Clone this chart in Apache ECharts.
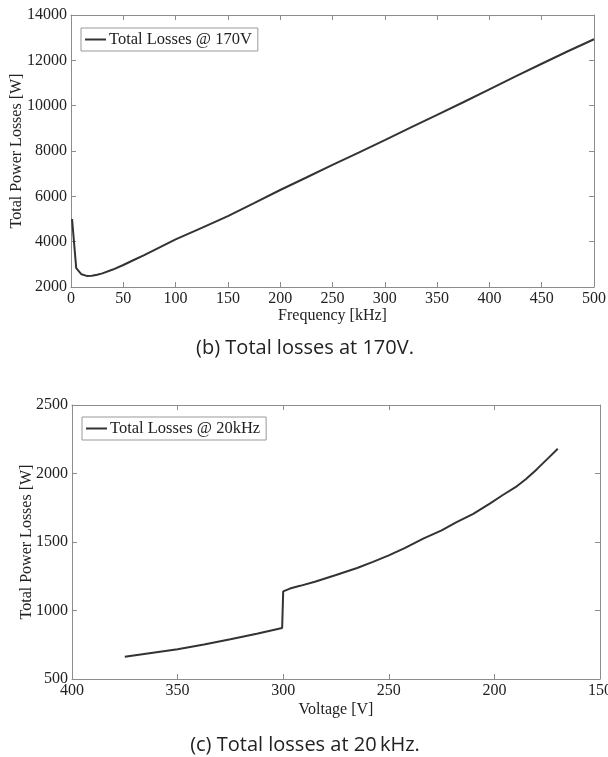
<!DOCTYPE html>
<html><head><meta charset="utf-8">
<script src="https://cdn.jsdelivr.net/npm/echarts@6/dist/echarts.min.js"></script>
<style>html,body{margin:0;padding:0;background:#fff}#c{width:608px;height:757px}</style>
</head><body><div id="c"></div>
<script>
// Top chart: total losses vs frequency at 170 V
const freqKHz = [1, 5, 10, 15, 20, 25, 30, 40, 50, 60, 70, 80, 90, 100, 125, 150, 175, 200, 225, 250, 275, 300, 325, 350, 375, 400, 425, 450, 475, 500];
const lossesAt170V = [5000, 2830, 2560, 2490, 2500, 2540, 2600, 2770, 2970, 3190, 3410, 3640, 3870, 4100, 4610, 5130, 5700, 6280, 6830, 7390, 7930, 8480, 9040, 9590, 10150, 10720, 11290, 11850, 12400, 12930];
// Bottom chart: total losses vs voltage at 20 kHz
const voltageV = [375, 365, 350, 337.5, 325, 312.5, 300.5, 300, 296.8, 292, 285, 275, 265, 257.5, 250, 242.5, 233.7, 225, 217.9, 210, 202, 196, 190, 185, 180, 175, 170];
const lossesAt20kHz = [663, 685, 717, 752, 790, 830, 872, 1140, 1160, 1180, 1210, 1259, 1310, 1355, 1402, 1455, 1525, 1585, 1645, 1705, 1782, 1843, 1900, 1960, 2030, 2105, 2180];

const serif = 'Liberation Serif';
const axisGray = '#8c8c8c';
const textCol = '#222';

function mainX(grid, min, max, interval, name, gap, inverse) {
  return { type: 'value', gridIndex: grid, min, max, interval, inverse: !!inverse, position: 'bottom',
    name, nameLocation: 'middle', nameGap: gap, nameMoveOverlap: false,
    nameTextStyle: { fontFamily: serif, fontSize: 16, color: textCol },
    axisLine: { show: true, lineStyle: { color: axisGray, width: 1 } },
    axisTick: { show: true, inside: true, length: 5, lineStyle: { color: axisGray } },
    axisLabel: { fontFamily: serif, fontSize: 16, color: textCol, margin: 4, formatter: v => String(v) },
    splitLine: { show: false } };
}
function mainY(grid, min, max, interval, gap) {
  return { type: 'value', gridIndex: grid, min, max, interval, position: 'left',
    name: 'Total Power Losses [W]', nameLocation: 'middle', nameGap: gap, nameMoveOverlap: false,
    nameTextStyle: { fontFamily: serif, fontSize: 16, color: textCol },
    axisLine: { show: true, lineStyle: { color: axisGray, width: 1 } },
    axisTick: { show: true, inside: true, length: 5, lineStyle: { color: axisGray } },
    axisLabel: { fontFamily: serif, fontSize: 16, color: textCol, margin: 4, formatter: v => String(v) },
    splitLine: { show: false } };
}
function boxAxis(grid, min, max, interval, pos, inverse) {
  return { type: 'value', gridIndex: grid, min, max, interval, position: pos, inverse: !!inverse,
    axisLine: { show: true, onZero: false, lineStyle: { color: axisGray, width: 1 } },
    axisTick: { show: true, inside: true, length: 5, lineStyle: { color: axisGray } },
    axisLabel: { show: false }, splitLine: { show: false } };
}
function legendBox(name, left, top) {
  return { data: [name], left, top, orient: 'vertical', icon: 'rect',
    padding: [3, 6, 3, 4], itemWidth: 21, itemHeight: 2, itemGap: 0,
    borderColor: '#999', borderWidth: 1, backgroundColor: '#fff',
    textStyle: { fontFamily: serif, fontSize: 16.5, color: textCol, padding: [0, 0, 0, -2] } };
}

const chart = echarts.init(document.getElementById('c'), null, { renderer: 'canvas' });
chart.setOption({
  animation: false,
  backgroundColor: '#fff',
  title: [
    { text: '(b) Total losses at 170V.', left: 300, top: 333, textAlign: 'center',
      textStyle: { fontFamily: 'Open Sans', fontSize: 20, fontWeight: 'normal', color: '#222' } },
    { text: '(c) Total losses at 20\u2009kHz.', left: 300, top: 730, textAlign: 'center',
      textStyle: { fontFamily: 'Open Sans', fontSize: 20, fontWeight: 'normal', color: '#222' } }
  ],
  legend: [
    legendBox('Total Losses @ 170V', 81, 28),
    legendBox('Total Losses @ 20kHz', 82, 417)
  ],
  grid: [
    { left: 71, right: 14, top: 15, height: 272, outerBoundsMode: 'none' },
    { left: 72, right: 8, top: 405, height: 274, outerBoundsMode: 'none' }
  ],
  xAxis: [
    mainX(0, 0, 500, 50, 'Frequency [kHz]', 21, false),
    mainX(1, 150, 400, 50, 'Voltage [V]', 23, true),
    boxAxis(0, 0, 500, 50, 'top', false),
    boxAxis(1, 150, 400, 50, 'top', true)
  ],
  yAxis: [
    mainY(0, 2000, 14000, 2000, 46),
    mainY(1, 500, 2500, 500, 37),
    boxAxis(0, 2000, 14000, 2000, 'right', false),
    boxAxis(1, 500, 2500, 500, 'right', false)
  ],
  series: [
    { name: 'Total Losses @ 170V', type: 'line', xAxisIndex: 0, yAxisIndex: 0, symbol: 'none', smooth: false,
      lineStyle: { color: '#333', width: 2 }, itemStyle: { color: '#333' },
      data: freqKHz.map((f, i) => [f, lossesAt170V[i]]) },
    { name: 'Total Losses @ 20kHz', type: 'line', xAxisIndex: 1, yAxisIndex: 1, symbol: 'none', smooth: false,
      lineStyle: { color: '#333', width: 2 }, itemStyle: { color: '#333' },
      data: voltageV.map((v, i) => [v, lossesAt20kHz[i]]) }
  ]
});
</script>
</body></html>
